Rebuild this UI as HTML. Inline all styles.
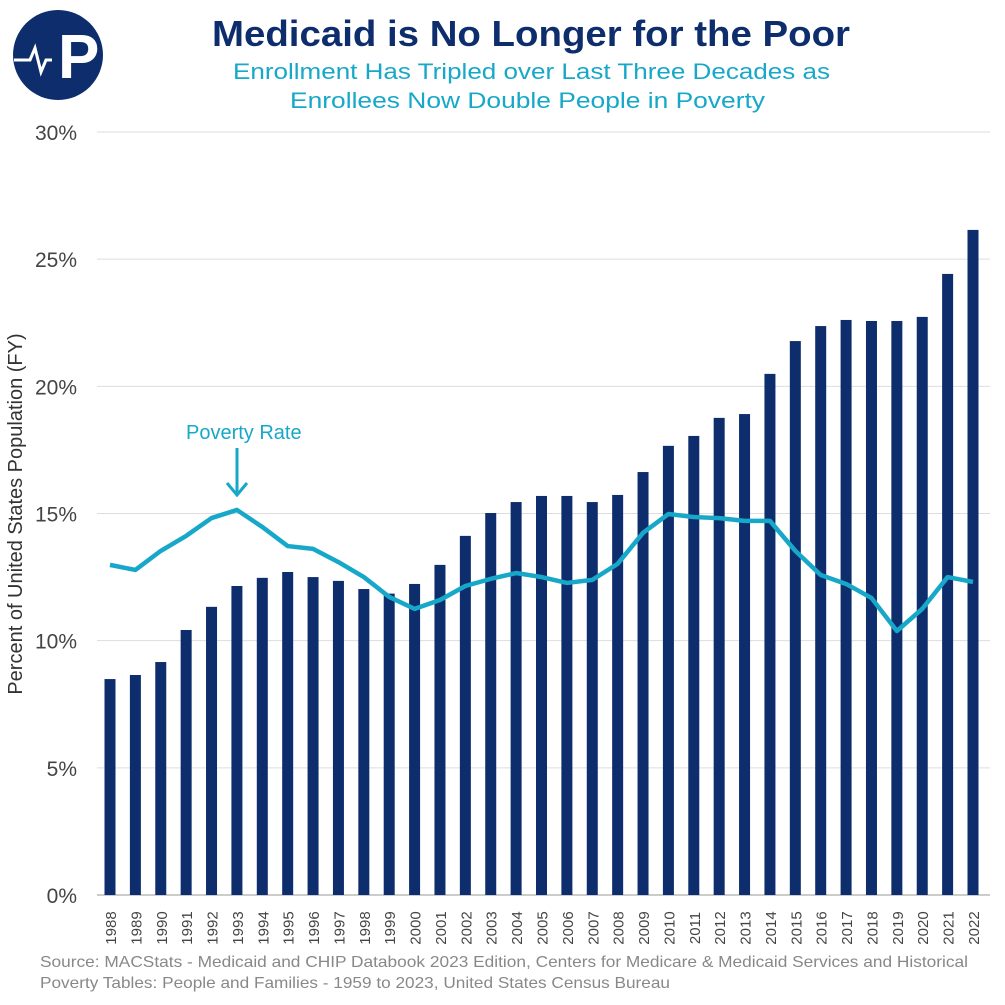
<!DOCTYPE html>
<html><head><meta charset="utf-8"><style>
body{margin:0;background:#fff;width:1005px;height:1000px;overflow:hidden;font-family:"Liberation Sans",sans-serif}
</style></head><body>
<svg width="1005" height="1000" viewBox="0 0 1005 1000">
<g>
<circle cx="58" cy="55" r="45" fill="#0d2d6c"/>
<path d="M14 60 L30 60 L35 48 L41 72 L46 60 L52 60" stroke="#fff" stroke-width="3" fill="none"/>
<text x="58" y="78" font-size="62" font-weight="bold" fill="#fff" font-family="Liberation Sans,sans-serif">P</text>
</g>
<text x="212" y="46" textLength="638" lengthAdjust="spacingAndGlyphs" font-size="36" font-weight="bold" fill="#0d2d6c">Medicaid is No Longer for the Poor</text>
<text x="233" y="79" textLength="597" lengthAdjust="spacingAndGlyphs" font-size="22" fill="#17a8c9">Enrollment Has Tripled over Last Three Decades as</text>
<text x="290" y="108" textLength="475" lengthAdjust="spacingAndGlyphs" font-size="22" fill="#17a8c9">Enrollees Now Double People in Poverty</text>
<g id="grid"></g><g id="bars"></g><g id="line"></g><g id="xt"></g>
<text transform="translate(22,514) rotate(-90)" text-anchor="middle" font-size="20" fill="#333">Percent of United States Population (FY)</text>
<text x="186" y="439" font-size="20" fill="#17a8c9">Poverty Rate</text>
<g stroke="#17a8c9" stroke-width="3" fill="none">
<line x1="237" y1="448" x2="237" y2="494"/><path d="M227 483 L237 495 L247 483"/></g>
<text x="40" y="967" textLength="928" lengthAdjust="spacingAndGlyphs" font-size="16" fill="#888">Source: MACStats - Medicaid and CHIP Databook 2023 Edition, Centers for Medicare &amp; Medicaid Services and Historical</text>
<text x="40" y="988" textLength="630" lengthAdjust="spacingAndGlyphs" font-size="16" fill="#888">Poverty Tables: People and Families - 1959 to 2023, United States Census Bureau</text>
</svg>
<script>
const years=[1988,1989,1990,1991,1992,1993,1994,1995,1996,1997,1998,1999,2000,2001,2002,2003,2004,2005,2006,2007,2008,2009,2010,2011,2012,2013,2014,2015,2016,2017,2018,2019,2020,2021,2022];
const medicaid=[8.49,8.65,9.16,10.42,11.33,12.15,12.47,12.7,12.5,12.35,12.03,11.85,12.23,12.98,14.12,15.02,15.45,15.69,15.69,15.45,15.73,16.63,17.66,18.05,18.76,18.91,20.49,21.78,22.37,22.61,22.57,22.57,22.73,24.42,26.15];
const poverty=[12.98,12.78,13.53,14.12,14.82,15.14,14.47,13.72,13.61,13.09,12.5,11.72,11.25,11.6,12.15,12.43,12.66,12.5,12.27,12.39,13.02,14.24,14.98,14.86,14.82,14.71,14.71,13.53,12.58,12.23,11.68,10.38,11.25,12.5,12.31];
const yTicks=[0,5,10,15,20,25,30];
const NS="http://www.w3.org/2000/svg";
const y=v=>895-v*(895-132)/30;
const x=i=>110+i*(973-110)/(years.length-1);
function mk(t,a,p){const e=document.createElementNS(NS,t);for(const k in a)e.setAttribute(k,a[k]);document.getElementById(p).appendChild(e);return e;}
yTicks.forEach(t=>{
 const l=mk('line',{x1:97,x2:990,y1:y(t),y2:y(t),stroke:t===0?'#999':'#ddd','stroke-width':1},'grid');
 
 
 const tx=mk('text',{x:77,y:y(t)+8,'text-anchor':'end','font-size':21,fill:'#444'},'grid');
 tx.textContent=t+'%';
 
 
});
medicaid.forEach((v,i)=>{
 const r=mk('rect',{x:x(i)-5.5,y:y(v),width:11,height:y(0)-y(v),fill:'#0d2d6c'},'bars');
 
 
 const tx=mk('text',{transform:`translate(${x(i)+6},928) rotate(-90)`,'text-anchor':'middle','font-size':15,fill:'#444'},'xt');
 tx.textContent=years[i];
 
 
});
const pl=mk('polyline',{points:poverty.map((v,i)=>x(i)+','+y(v)).join(' '),fill:'none',stroke:'#17a8c9','stroke-width':4.5,'stroke-linejoin':'round'},'line');


</script>
</body></html>
